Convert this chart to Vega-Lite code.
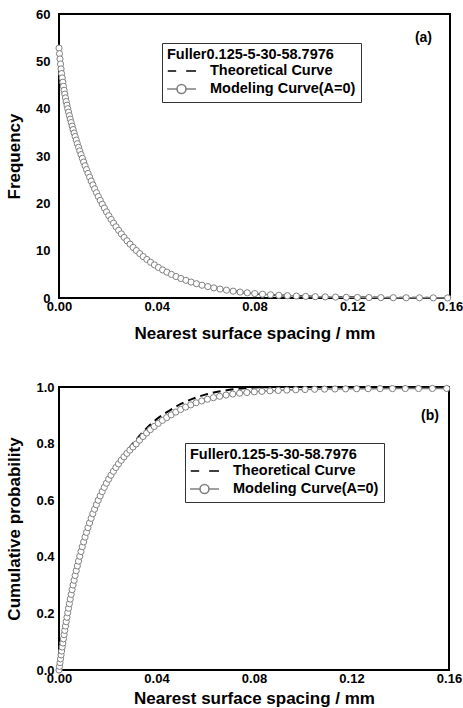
{
  "$schema": "https://vega.github.io/schema/vega-lite/v6.json",
  "padding": {"left": 4, "top": 7, "right": 0, "bottom": 2},
  "background": "white",
  "spacing": 38,
  "config": {
    "font": "Liberation Sans",
    "view": {"stroke": "black", "strokeWidth": 2},
    "title": {"font": "Liberation Sans", "fontSize": 14, "fontWeight": "bold", "color": "black", "anchor": "end", "frame": "group"},
    "axis": {
      "domain": false, "grid": false, "ticks": false, "labelFlush": false,
      "labelFont": "Liberation Sans", "labelFontSize": 13, "labelFontWeight": "bold", "labelColor": "black",
      "titleFont": "Liberation Sans", "titleFontSize": 17, "titleFontWeight": "bold", "titleColor": "black"
    },
    "rule": {"color": "black", "strokeWidth": 1.5},
    "legend": {
      "titleFont": "Liberation Sans", "titleFontSize": 14.5, "titleFontWeight": "bold", "titleColor": "black",
      "labelFont": "Liberation Sans", "labelFontSize": 14.5, "labelFontWeight": "bold", "labelColor": "black",
      "labelLimit": 300, "titleLimit": 300,
      "strokeColor": "#333333", "fillColor": "white", "padding": 5,
      "symbolStrokeWidth": 1.6, "symbolSize": 225, "symbolOffset": 6, "symbolFillColor": "white", "symbolOpacity": 1,
      "labelOffset": 20, "rowPadding": 3, "titlePadding": 0
    }
  },
  "datasets": {
    "model": [
      {"x": 0, "f": 52.8, "F": 0},
      {"x": 0.0002, "f": 51.62, "F": 0.0129},
      {"x": 0.000407, "f": 50.5, "F": 0.026},
      {"x": 0.000622, "f": 49.43, "F": 0.0394},
      {"x": 0.000846, "f": 48.4, "F": 0.0531},
      {"x": 0.001077, "f": 47.42, "F": 0.067},
      {"x": 0.001317, "f": 46.49, "F": 0.0812},
      {"x": 0.001565, "f": 45.59, "F": 0.0955},
      {"x": 0.001823, "f": 44.72, "F": 0.1101},
      {"x": 0.002091, "f": 43.88, "F": 0.125},
      {"x": 0.002368, "f": 43.07, "F": 0.14},
      {"x": 0.002656, "f": 42.28, "F": 0.1553},
      {"x": 0.002954, "f": 41.5, "F": 0.1707},
      {"x": 0.003263, "f": 40.74, "F": 0.1864},
      {"x": 0.003584, "f": 39.99, "F": 0.2023},
      {"x": 0.003917, "f": 39.26, "F": 0.2183},
      {"x": 0.004262, "f": 38.52, "F": 0.2344},
      {"x": 0.004619, "f": 37.79, "F": 0.2507},
      {"x": 0.00499, "f": 37.06, "F": 0.2671},
      {"x": 0.005375, "f": 36.32, "F": 0.2837},
      {"x": 0.005774, "f": 35.58, "F": 0.3004},
      {"x": 0.006187, "f": 34.85, "F": 0.3171},
      {"x": 0.006616, "f": 34.11, "F": 0.334},
      {"x": 0.007061, "f": 33.36, "F": 0.3509},
      {"x": 0.007522, "f": 32.6, "F": 0.3678},
      {"x": 0.008, "f": 31.84, "F": 0.3848},
      {"x": 0.008497, "f": 31.07, "F": 0.4018},
      {"x": 0.009011, "f": 30.29, "F": 0.4188},
      {"x": 0.009544, "f": 29.51, "F": 0.4357},
      {"x": 0.010098, "f": 28.72, "F": 0.4527},
      {"x": 0.010671, "f": 27.93, "F": 0.4695},
      {"x": 0.011266, "f": 27.13, "F": 0.4863},
      {"x": 0.011883, "f": 26.32, "F": 0.503},
      {"x": 0.012523, "f": 25.52, "F": 0.5195},
      {"x": 0.013186, "f": 24.7, "F": 0.5359},
      {"x": 0.013874, "f": 23.89, "F": 0.5522},
      {"x": 0.014587, "f": 23.07, "F": 0.5682},
      {"x": 0.015327, "f": 22.25, "F": 0.5841},
      {"x": 0.016094, "f": 21.44, "F": 0.5998},
      {"x": 0.01689, "f": 20.62, "F": 0.6152},
      {"x": 0.017714, "f": 19.81, "F": 0.6303},
      {"x": 0.01857, "f": 19.0, "F": 0.6453},
      {"x": 0.019457, "f": 18.19, "F": 0.6599},
      {"x": 0.020377, "f": 17.39, "F": 0.6742},
      {"x": 0.021331, "f": 16.6, "F": 0.6883},
      {"x": 0.02232, "f": 15.82, "F": 0.702},
      {"x": 0.023346, "f": 15.05, "F": 0.7154},
      {"x": 0.02441, "f": 14.29, "F": 0.7284},
      {"x": 0.025513, "f": 13.54, "F": 0.7411},
      {"x": 0.026656, "f": 12.81, "F": 0.7534},
      {"x": 0.027843, "f": 12.09, "F": 0.7654},
      {"x": 0.029073, "f": 11.38, "F": 0.7769},
      {"x": 0.030349, "f": 10.69, "F": 0.7881},
      {"x": 0.031672, "f": 10.03, "F": 0.7989},
      {"x": 0.033043, "f": 9.38, "F": 0.8122},
      {"x": 0.034466, "f": 8.75, "F": 0.8251},
      {"x": 0.035941, "f": 8.14, "F": 0.8375},
      {"x": 0.037471, "f": 7.56, "F": 0.8494},
      {"x": 0.039057, "f": 6.99, "F": 0.8607},
      {"x": 0.040702, "f": 6.45, "F": 0.8716},
      {"x": 0.042408, "f": 5.94, "F": 0.882},
      {"x": 0.044177, "f": 5.45, "F": 0.8918},
      {"x": 0.046012, "f": 4.98, "F": 0.9016},
      {"x": 0.047914, "f": 4.54, "F": 0.9114},
      {"x": 0.049887, "f": 4.12, "F": 0.9205},
      {"x": 0.051933, "f": 3.73, "F": 0.929},
      {"x": 0.054054, "f": 3.37, "F": 0.9369},
      {"x": 0.056254, "f": 3.02, "F": 0.9442},
      {"x": 0.058536, "f": 2.7, "F": 0.9508},
      {"x": 0.060902, "f": 2.41, "F": 0.9568},
      {"x": 0.063355, "f": 2.14, "F": 0.9623},
      {"x": 0.065899, "f": 1.89, "F": 0.9672},
      {"x": 0.068538, "f": 1.66, "F": 0.9716},
      {"x": 0.071273, "f": 1.45, "F": 0.9752},
      {"x": 0.074111, "f": 1.26, "F": 0.978},
      {"x": 0.077053, "f": 1.1, "F": 0.9806},
      {"x": 0.080104, "f": 0.94, "F": 0.9828},
      {"x": 0.083267, "f": 0.81, "F": 0.9847},
      {"x": 0.086548, "f": 0.69, "F": 0.9864},
      {"x": 0.089951, "f": 0.58, "F": 0.9879},
      {"x": 0.093479, "f": 0.49, "F": 0.9891},
      {"x": 0.097138, "f": 0.41, "F": 0.9902},
      {"x": 0.100932, "f": 0.34, "F": 0.9911},
      {"x": 0.104867, "f": 0.28, "F": 0.9919},
      {"x": 0.108947, "f": 0.23, "F": 0.9925},
      {"x": 0.113178, "f": 0.19, "F": 0.993},
      {"x": 0.117565, "f": 0.15, "F": 0.9934},
      {"x": 0.122115, "f": 0.12, "F": 0.9938},
      {"x": 0.126834, "f": 0.1, "F": 0.994},
      {"x": 0.131727, "f": 0.08, "F": 0.9942},
      {"x": 0.1368, "f": 0.06, "F": 0.9944},
      {"x": 0.142062, "f": 0.05, "F": 0.9945},
      {"x": 0.147518, "f": 0.04, "F": 0.9946},
      {"x": 0.153176, "f": 0.03, "F": 0.9947},
      {"x": 0.159044, "f": 0.02, "F": 0.9948}
    ],
    "theo": [
      {"x": 0, "f": 52.8, "F": 0},
      {"x": 0.0025, "f": 42.7, "F": 0.147},
      {"x": 0.005, "f": 37.05, "F": 0.268},
      {"x": 0.0075, "f": 32.6, "F": 0.367},
      {"x": 0.01, "f": 28.86, "F": 0.45},
      {"x": 0.0125, "f": 25.55, "F": 0.519},
      {"x": 0.015, "f": 22.6, "F": 0.577},
      {"x": 0.02, "f": 17.7, "F": 0.669},
      {"x": 0.025, "f": 13.9, "F": 0.739},
      {"x": 0.03, "f": 10.87, "F": 0.797},
      {"x": 0.035, "f": 8.5, "F": 0.846},
      {"x": 0.04, "f": 6.7, "F": 0.886},
      {"x": 0.045, "f": 5.2, "F": 0.915},
      {"x": 0.05, "f": 4.1, "F": 0.94},
      {"x": 0.055, "f": 3.2, "F": 0.959},
      {"x": 0.06, "f": 2.5, "F": 0.973},
      {"x": 0.065, "f": 2.0, "F": 0.983},
      {"x": 0.07, "f": 1.55, "F": 0.99},
      {"x": 0.075, "f": 1.2, "F": 0.995},
      {"x": 0.08, "f": 0.95, "F": 0.998},
      {"x": 0.085, "f": 0.74, "F": 0.9995},
      {"x": 0.09, "f": 0.58, "F": 1.0},
      {"x": 0.1, "f": 0.36, "F": 1.0},
      {"x": 0.12, "f": 0.14, "F": 1.0},
      {"x": 0.14, "f": 0.05, "F": 1.0},
      {"x": 0.16, "f": 0.02, "F": 1.0}
    ],
    "key": [{"label": "legend"}],
    "xMajor": [{"v": 0.04}, {"v": 0.08}, {"v": 0.12}],
    "xMinor": [{"v": 0.02}, {"v": 0.06}, {"v": 0.1}, {"v": 0.14}],
    "yMajorA": [{"v": 10}, {"v": 20}, {"v": 30}, {"v": 40}, {"v": 50}],
    "yMinorA": [{"v": 5}, {"v": 15}, {"v": 25}, {"v": 35}, {"v": 45}, {"v": 55}],
    "yMajorB": [{"v": 0.2}, {"v": 0.4}, {"v": 0.6}, {"v": 0.8}],
    "yMinorB": [{"v": 0.1}, {"v": 0.3}, {"v": 0.5}, {"v": 0.7}, {"v": 0.9}]
  },
  "vconcat": [
    {
      "width": 391,
      "height": 284,
      "title": {"text": "(a)", "offset": -37, "dx": -18},
      "encoding": {
        "x": {"field": "x", "type": "quantitative", "scale": {"domain": [0, 0.16], "nice": false},
              "title": "Nearest surface spacing / mm",
              "axis": {"values": [0, 0.04, 0.08, 0.12, 0.16], "format": ".2f", "labelPadding": 2, "titlePadding": 12}},
        "y": {"field": "f", "type": "quantitative", "scale": {"domain": [0, 60], "nice": false},
              "title": "Frequency",
              "axis": {"values": [0, 10, 20, 30, 40, 50, 60], "labelPadding": 9, "titlePadding": 12}}
      },
      "layer": [
        {"data": {"name": "theo"}, "mark": {"type": "line", "color": "black", "strokeWidth": 2, "strokeDash": [8, 5], "interpolate": "monotone"}},
        {"data": {"name": "model"}, "mark": {"type": "line", "color": "#808080", "strokeWidth": 1.5}},
        {"data": {"name": "model"},
         "mark": {"type": "point", "shape": "circle", "filled": false, "fill": "white", "stroke": "#808080", "size": 38, "strokeWidth": 1, "opacity": 1}},
        {"data": {"name": "key"},
         "mark": {"type": "point", "filled": false, "fill": "white", "opacity": 0},
         "encoding": {
           "x": {"datum": 0.1, "type": "quantitative"}, "y": {"datum": 30, "type": "quantitative"},
           "color": {"datum": "Modeling Curve(A=0)",
             "scale": {"domain": ["Theoretical Curve", "Modeling Curve(A=0)"], "range": ["black", "#808080"]},
             "legend": {"title": "Fuller0.125-5-30-58.7976", "orient": "none", "legendX": 103, "legendY": 29}},
           "shape": {"datum": "Modeling Curve(A=0)",
             "scale": {"domain": ["Theoretical Curve", "Modeling Curve(A=0)"], "range": ["M-1.83,0H-0.71M0.62,0H1.93", "M-1.93,0H-0.6M0.6,0H1.93M0.6,0A0.6,0.6,0,1,1,-0.6,0A0.6,0.6,0,1,1,0.6,0"]},
             "legend": {"title": "Fuller0.125-5-30-58.7976", "orient": "none", "legendX": 103, "legendY": 29}}
         }},
        {"data": {"name": "yMajorA"}, "mark": {"type": "rule"},
         "encoding": {"y": {"field": "v", "type": "quantitative", "title": "Frequency"}, "x": {"datum": 0, "type": "quantitative"}, "x2": {"datum": 0.00205}}},
        {"data": {"name": "yMinorA"}, "mark": {"type": "rule"},
         "encoding": {"y": {"field": "v", "type": "quantitative", "title": "Frequency"}, "x": {"datum": 0, "type": "quantitative"}, "x2": {"datum": 0.00123}}},
        {"data": {"name": "yMajorA"}, "mark": {"type": "rule"},
         "encoding": {"y": {"field": "v", "type": "quantitative", "title": "Frequency"}, "x": {"datum": 0.16, "type": "quantitative"}, "x2": {"datum": 0.15795}}},
        {"data": {"name": "yMinorA"}, "mark": {"type": "rule"},
         "encoding": {"y": {"field": "v", "type": "quantitative", "title": "Frequency"}, "x": {"datum": 0.16, "type": "quantitative"}, "x2": {"datum": 0.15877}}},
        {"data": {"name": "xMajor"}, "mark": {"type": "rule"},
         "encoding": {"x": {"field": "v", "type": "quantitative", "title": "Nearest surface spacing / mm"}, "y": {"datum": 0, "type": "quantitative"}, "y2": {"datum": 1.06}}},
        {"data": {"name": "xMinor"}, "mark": {"type": "rule"},
         "encoding": {"x": {"field": "v", "type": "quantitative", "title": "Nearest surface spacing / mm"}, "y": {"datum": 0, "type": "quantitative"}, "y2": {"datum": 0.63}}}
      ]
    },
    {
      "width": 390,
      "height": 283,
      "title": {"text": "(b)", "offset": -42, "dx": -10},
      "encoding": {
        "x": {"field": "x", "type": "quantitative", "scale": {"domain": [0, 0.16], "nice": false},
              "title": "Nearest surface spacing / mm",
              "axis": {"values": [0, 0.04, 0.08, 0.12, 0.16], "format": ".2f", "labelPadding": 2, "titlePadding": 5}},
        "y": {"field": "F", "type": "quantitative", "scale": {"domain": [0, 1], "nice": false},
              "title": "Cumulative probability",
              "axis": {"values": [0, 0.2, 0.4, 0.6, 0.8, 1.0], "format": ".1f", "labelPadding": 5, "titlePadding": 12}}
      },
      "layer": [
        {"data": {"name": "theo"}, "mark": {"type": "line", "color": "black", "strokeWidth": 2, "strokeDash": [8, 5], "interpolate": "monotone"}},
        {"data": {"name": "model"}, "mark": {"type": "line", "color": "#808080", "strokeWidth": 1.5}},
        {"data": {"name": "model"},
         "mark": {"type": "point", "shape": "circle", "filled": false, "fill": "white", "stroke": "#808080", "size": 38, "strokeWidth": 1, "opacity": 1}},
        {"data": {"name": "key"},
         "mark": {"type": "point", "filled": false, "fill": "white", "opacity": 0},
         "encoding": {
           "x": {"datum": 0.1, "type": "quantitative"}, "y": {"datum": 0.5, "type": "quantitative"},
           "color": {"datum": "Modeling Curve(A=0)",
             "scale": {"domain": ["Theoretical Curve", "Modeling Curve(A=0)"], "range": ["black", "#808080"]},
             "legend": {"title": "Fuller0.125-5-30-58.7976", "orient": "none", "legendX": 126, "legendY": 56}},
           "shape": {"datum": "Modeling Curve(A=0)",
             "scale": {"domain": ["Theoretical Curve", "Modeling Curve(A=0)"], "range": ["M-1.83,0H-0.71M0.62,0H1.93", "M-1.93,0H-0.6M0.6,0H1.93M0.6,0A0.6,0.6,0,1,1,-0.6,0A0.6,0.6,0,1,1,0.6,0"]},
             "legend": {"title": "Fuller0.125-5-30-58.7976", "orient": "none", "legendX": 126, "legendY": 56}}
         }},
        {"data": {"name": "yMajorB"}, "mark": {"type": "rule"},
         "encoding": {"y": {"field": "v", "type": "quantitative", "title": "Cumulative probability"}, "x": {"datum": 0, "type": "quantitative"}, "x2": {"datum": 0.00205}}},
        {"data": {"name": "yMinorB"}, "mark": {"type": "rule"},
         "encoding": {"y": {"field": "v", "type": "quantitative", "title": "Cumulative probability"}, "x": {"datum": 0, "type": "quantitative"}, "x2": {"datum": 0.00123}}},
        {"data": {"name": "yMajorB"}, "mark": {"type": "rule"},
         "encoding": {"y": {"field": "v", "type": "quantitative", "title": "Cumulative probability"}, "x": {"datum": 0.16, "type": "quantitative"}, "x2": {"datum": 0.15795}}},
        {"data": {"name": "yMinorB"}, "mark": {"type": "rule"},
         "encoding": {"y": {"field": "v", "type": "quantitative", "title": "Cumulative probability"}, "x": {"datum": 0.16, "type": "quantitative"}, "x2": {"datum": 0.15877}}},
        {"data": {"name": "xMajor"}, "mark": {"type": "rule"},
         "encoding": {"x": {"field": "v", "type": "quantitative", "title": "Nearest surface spacing / mm"}, "y": {"datum": 0, "type": "quantitative"}, "y2": {"datum": 0.0177}}},
        {"data": {"name": "xMinor"}, "mark": {"type": "rule"},
         "encoding": {"x": {"field": "v", "type": "quantitative", "title": "Nearest surface spacing / mm"}, "y": {"datum": 0, "type": "quantitative"}, "y2": {"datum": 0.0106}}}
      ]
    }
  ],
  "resolve": {"scale": {"color": "independent", "shape": "independent"}, "legend": {"color": "independent", "shape": "independent"}}
}
